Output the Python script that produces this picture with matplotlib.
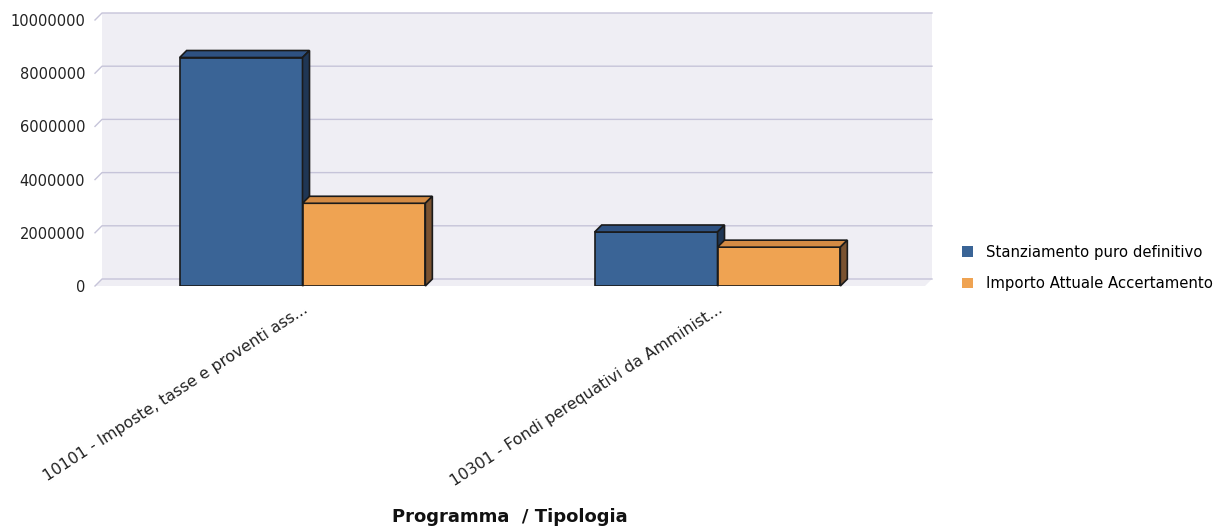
import matplotlib.pyplot as plt
from matplotlib.patches import Polygon, Patch

categories = ["10101 - Imposte, tasse e proventi ass...",
              "10301 - Fondi perequativi da Amminist..."]
series_names = ["Stanziamento puro definitivo", "Importo Attuale Accertamento"]
stanziamento = [8590000, 2030000]
accertamento = [3110000, 1460000]
yticks = [0, 2000000, 4000000, 6000000, 8000000, 10000000]

front = ["#3A6496", "#EFA352"]
top = ["#2E5181", "#D48B44"]
side = ["#1F3654", "#7A5230"]
wall = "#EFEEF4"
grid = "#C6C4D9"

fig = plt.figure(figsize=(12.17, 5.28), dpi=100)
ax = fig.add_axes([95/1217, 1-286/528, 830/1217, 266/528])
ax.set_xlim(-0.5, 1.5)
ax.set_ylim(0, 10000000)
for s in ax.spines.values():
    s.set_visible(False)
ax.patch.set_visible(False)

# depth of the fake 3d effect, 7 px
DX = 7 * 2.0 / 830
DY = 7 * 10000000 / 266
x0, x1 = -0.5, 1.5

# back wall + floor
ax.add_patch(Polygon([(x0+DX, DY), (x0+DX, 10000000+DY), (x1+DX, 10000000+DY),
                      (x1+DX, DY), (x1, 0), (x0, 0)],
                     closed=True, facecolor=wall, edgecolor="none", zorder=0, clip_on=False))
for v in yticks:
    ax.plot([x0, x0+DX, x1+DX], [v, v+DY, v+DY], color=grid, lw=1, zorder=1, clip_on=False)

w = 0.296
for i, vals in enumerate([stanziamento, accertamento]):
    for j, v in enumerate(vals):
        left = j - w + i * w
        right = left + w
        ax.bar(left, v, w, align="edge", color=front[i], edgecolor="#1a1a1a",
               lw=1.2, zorder=2 + i * 2)
        ax.add_patch(Polygon([(left, v), (left+DX, v+DY), (right+DX, v+DY), (right, v)],
                             closed=True, facecolor=top[i], edgecolor="#1a1a1a", lw=1.2,
                             zorder=3 + i * 2, clip_on=False))
        ax.add_patch(Polygon([(right, 0), (right+DX, DY), (right+DX, v+DY), (right, v)],
                             closed=True, facecolor=side[i], edgecolor="#1a1a1a", lw=1.2,
                             zorder=3 + i * 2, clip_on=False))

ax.set_yticks(yticks)
ax.set_yticklabels([str(v) for v in yticks], fontsize=10.5, color="#222222")
ax.tick_params(axis="y", length=0, pad=7)
ax.set_xticks([0, 1])
ax.set_xticklabels(categories, rotation=33, ha="right", rotation_mode="anchor",
                   fontsize=11.3, color="#222222")
ax.tick_params(axis="x", length=0, pad=11)

fig.text(510/1217, 1-517/528, "Programma  / Tipologia", ha="center", va="center",
         fontsize=13, fontweight="bold", color="#111111")

handles = [Patch(facecolor=front[0], edgecolor="none"), Patch(facecolor=front[1], edgecolor="none")]
fig.legend(handles, series_names, loc="center left", bbox_to_anchor=(956/1217, 1-268/528),
           frameon=False, fontsize=10.75, handlelength=0.75, handleheight=0.75,
           handletextpad=0.85, labelspacing=1.1, borderaxespad=0)

fig.savefig("out.png", dpi=100)
